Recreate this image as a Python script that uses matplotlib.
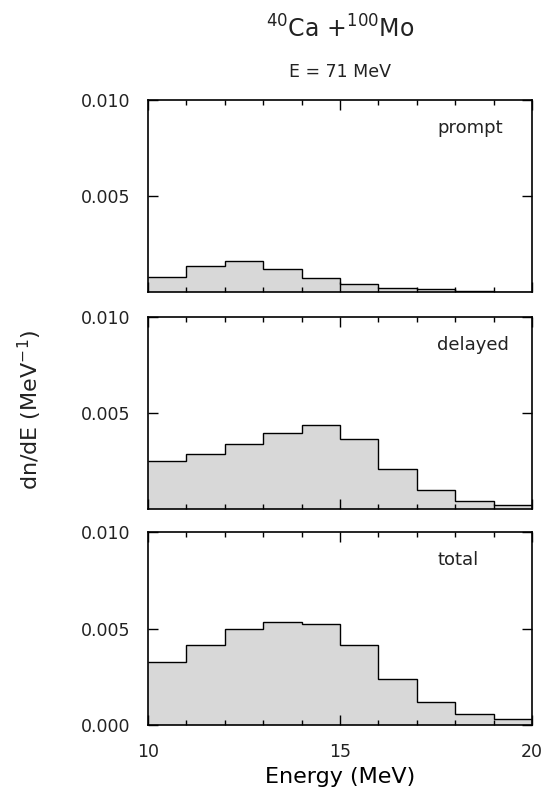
import numpy as np
import matplotlib
matplotlib.use("Agg")
import matplotlib.pyplot as plt
from matplotlib.ticker import MultipleLocator

# bin edges (MeV) and dn/dE values
energy_edges = [10, 11, 12, 13, 14, 15, 16, 17, 18, 19, 20]
prompt = [0.00080, 0.00133, 0.00160, 0.00120, 0.00071, 0.00041, 0.00023, 0.00014, 0.00005, 0.0]
delayed = [0.00251, 0.00287, 0.00336, 0.00397, 0.00437, 0.00366, 0.00207, 0.00098, 0.00044, 0.00021]
total = [0.00329, 0.00413, 0.00500, 0.00535, 0.00524, 0.00416, 0.00239, 0.00117, 0.00059, 0.00031]

panel_names = ["prompt", "delayed", "total"]
panel_values = [prompt, delayed, total]

plt.rcParams['font.family'] = ['DejaVu Sans']
plt.rcParams['mathtext.fontset'] = 'dejavusans'
plt.rcParams['text.color'] = '#222222'
plt.rcParams['xtick.color'] = 'black'
plt.rcParams['xtick.labelcolor'] = '#222222'
plt.rcParams['ytick.labelcolor'] = '#222222'

fig = plt.figure(figsize=(5.46, 8.01), dpi=100)

W, H = 546.0, 801.0
left, right = 148 / W, 532 / W
# (top, bottom) of each panel in pixels
panel_px = [(100, 292), (317, 509), (532, 725)]

for k, (name, vals) in enumerate(zip(panel_names, panel_values)):
    top, bot = panel_px[k]
    ax = fig.add_axes([left, 1 - bot / H, right - left, (bot - top) / H])
    ax.stairs(vals, energy_edges, fill=True, facecolor="#d8d8d8", lw=0)
    ax.stairs(vals, energy_edges, color="black", lw=1.0, baseline=None)

    ax.set_xlim(10, 20)
    ax.set_ylim(0, 0.010)
    ax.xaxis.set_major_locator(MultipleLocator(5))
    ax.xaxis.set_minor_locator(MultipleLocator(1))
    if k == 2:
        ax.set_yticks([0.0, 0.005, 0.010])
        ax.set_yticklabels(["0.000", "0.005", "0.010"])
    else:
        ax.set_yticks([0.005, 0.010])
        ax.set_yticklabels(["0.005", "0.010"])
    ax.tick_params(which="both", direction="in", top=True, right=True,
                   labelsize=12.5, pad=13, width=1.0)
    ax.tick_params(which="major", length=7)
    ax.tick_params(which="minor", length=3.5)
    if k < 2:
        ax.tick_params(axis="x", labelbottom=False)
    for s in ax.spines.values():
        s.set_linewidth(1.2)

    ax.text(0.753, 0.855, name, transform=ax.transAxes, ha="left", va="center",
            fontsize=13)

    if k == 2:
        ax.set_xlabel("Energy (MeV)", fontsize=16, labelpad=4)

fig.text(340 / W, 1 - 38 / H, r"$^{\mathrm{40}}$Ca +$^{\mathrm{100}}$Mo",
         ha="center", va="baseline", fontsize=17)
fig.text(340 / W, 1 - 77 / H, "E = 71 MeV", ha="center", va="baseline",
         fontsize=12.5)
fig.text(30 / W, 1 - 410 / H, r"dn/dE (MeV$^{\mathrm{-1}}$)", rotation=90,
         ha="center", va="center", fontsize=16)

fig.savefig("out.png", dpi=100)
